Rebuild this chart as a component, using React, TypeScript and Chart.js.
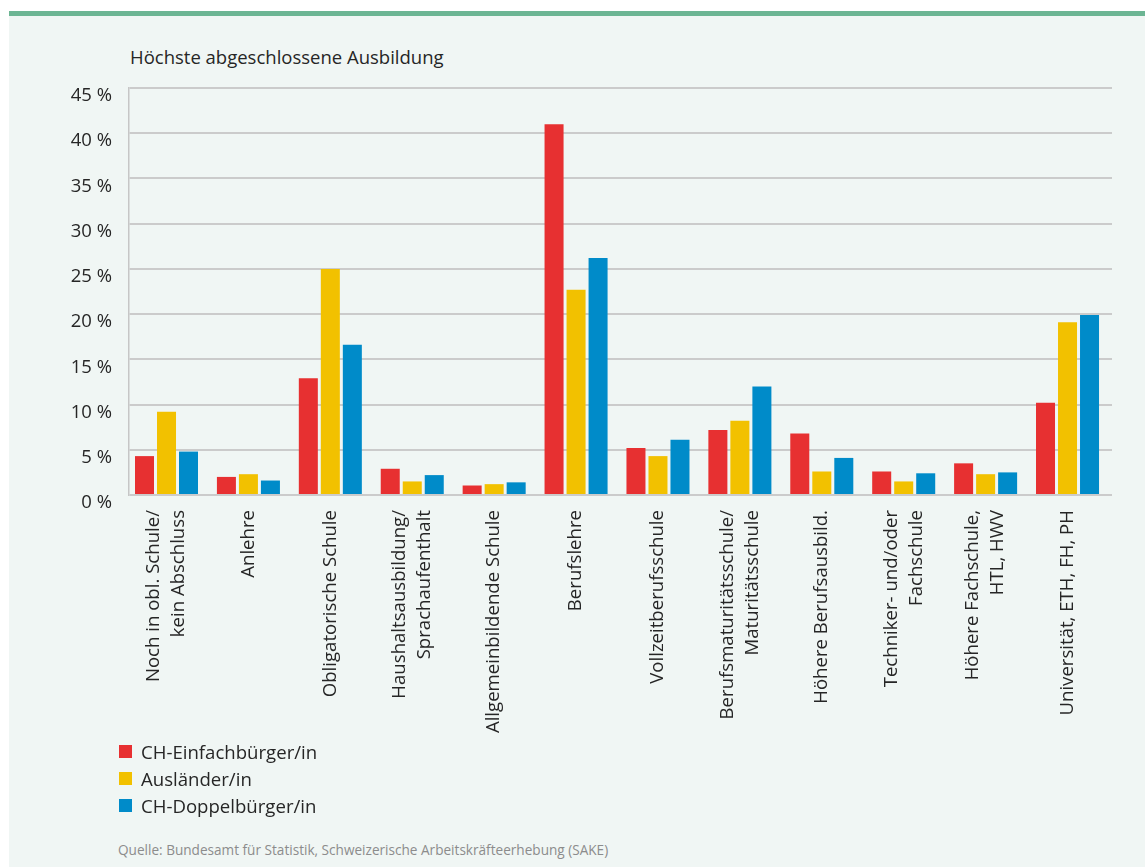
import React, { useEffect, useRef } from "react";
import { Chart, registerables } from "chart.js";

Chart.register(...registerables);

// ---- data ----
const categories: string[][] = [
  ["Noch in obl. Schule/", "kein Abschluss"],
  ["Anlehre"],
  ["Obligatorische Schule"],
  ["Haushaltsausbildung/", "Sprachaufenthalt"],
  ["Allgemeinbildende Schule"],
  ["Berufslehre"],
  ["Vollzeitberufsschule"],
  ["Berufsmaturitätsschule/", "Maturitätsschule"],
  ["Höhere Berufsausbild."],
  ["Techniker- und/oder", "Fachschule"],
  ["Höhere Fachschule,", "HTL, HWV"],
  ["Universität, ETH, FH, PH"],
];
const chEinfach = [4.3, 2.0, 12.9, 2.9, 1.05, 41.0, 5.2, 7.2, 6.8, 2.6, 3.5, 10.2];
const auslaender = [9.2, 2.3, 25.0, 1.5, 1.2, 22.7, 4.3, 8.2, 2.6, 1.5, 2.3, 19.1];
const chDoppel = [4.8, 1.6, 16.6, 2.2, 1.4, 26.2, 6.1, 12.0, 4.1, 2.4, 2.5, 19.9];
const seriesNames = ["CH-Einfachbürger/in", "Ausländer/in", "CH-Doppelbürger/in"];
const seriesColors = ["#e73031", "#f2c100", "#008bc9"];
const yMax = 45;
const yStep = 5;
const titleText = "Höchste abgeschlossene Ausbildung";
const sourceText = "Quelle: Bundesamt für Statistik, Schweizerische Arbeitskräfteerhebung (SAKE)";

const FONT = "'Open Sans', 'Noto Sans', sans-serif";
const TEXT = "#262626";
const CANVAS_W = 1136;
const CANVAS_H = 729;

const xLabelPlugin = {
  id: "xLabels",
  afterDraw(chart: any) {
    const ctx = chart.ctx;
    const xs = chart.scales.x;
    const top = chart.chartArea.bottom + 15;
    const lh = 25;
    ctx.save();
    ctx.font = `18.6px ${FONT}`;
    ctx.fillStyle = TEXT;
    ctx.textAlign = "right";
    ctx.textBaseline = "middle";
    categories.forEach((lines, i) => {
      const x = xs.getPixelForValue(i);
      ctx.save();
      ctx.translate(x, top);
      ctx.rotate(-Math.PI / 2);
      lines.forEach((ln, j) => {
        ctx.fillText(ln, 0, (j - (lines.length - 1) / 2) * lh);
      });
      ctx.restore();
    });
    ctx.restore();
  },
};

export default function App() {
  const ref = useRef<HTMLCanvasElement | null>(null);

  useEffect(() => {
    if (!ref.current) return;
    const series = [chEinfach, auslaender, chDoppel];
    const chart = new Chart(ref.current, {
      type: "bar",
      data: {
        datasets: series.map((vals, k) => ({
          label: seriesNames[k],
          data: vals.map((v, i) => ({ x: i, y: v })),
          backgroundColor: seriesColors[k],
          borderWidth: 0,
          barPercentage: 0.864,
          categoryPercentage: 0.806,
        })),
      },
      options: {
        animation: false,
        responsive: false,
        devicePixelRatio: 1,
        layout: { padding: { top: 72, right: 33, left: 0, bottom: 0 } },
        plugins: { legend: { display: false }, tooltip: { enabled: false } },
        scales: {
          x: {
            type: "linear",
            offset: false,
            min: -0.458,
            max: 11.543,
            grid: { display: false },
            border: { display: false },
            ticks: { display: false },
            afterFit: (s: any) => {
              s.height = 250;
            },
          },
          y: {
            min: 0,
            max: yMax,
            ticks: {
              stepSize: yStep,
              padding: 17,
              labelOffset: 8,
              color: TEXT,
              font: { family: FONT, size: 18.5 },
              callback: (v: any) => `${v} %`,
            },
            grid: { color: "#cbcbcb", lineWidth: 2, drawTicks: false },
            border: { display: true, color: "#c6c6c6", width: 1.5 },
            afterFit: (s: any) => {
              s.width = 120;
            },
          },
        },
      },
      plugins: [xLabelPlugin],
    } as any);
    return () => chart.destroy();
  }, []);

  return (
    <div
      style={{
        position: "absolute",
        left: 9,
        top: 11,
        width: 1136,
        height: 856,
        background: "#f0f6f4",
        borderTop: "5px solid #6cb593",
        boxSizing: "border-box",
        fontFamily: FONT,
        overflow: "hidden",
      }}
    >
      <div
        style={{
          position: "absolute",
          left: 121,
          top: 29,
          fontSize: 18.5,
          lineHeight: "24px",
          color: TEXT,
          whiteSpace: "nowrap",
        }}
      >
        {titleText}
      </div>
      <canvas
        ref={ref}
        width={CANVAS_W}
        height={CANVAS_H}
        style={{ position: "absolute", left: 0, top: 0, width: CANVAS_W, height: CANVAS_H }}
      />
      <div style={{ position: "absolute", left: 110, top: 722 }}>
        {seriesNames.map((n, k) => (
          <div
            key={n}
            style={{ display: "flex", alignItems: "center", height: 27, fontSize: 18.6, color: TEXT, whiteSpace: "nowrap" }}
          >
            <span style={{ display: "inline-block", width: 13, height: 13, background: seriesColors[k], marginRight: 9 }} />
            <span>{n}</span>
          </div>
        ))}
      </div>
      <div
        style={{
          position: "absolute",
          left: 109,
          top: 825,
          fontSize: 13.6,
          lineHeight: "18px",
          color: "#8c8c8c",
          whiteSpace: "nowrap",
        }}
      >
        {sourceText}
      </div>
    </div>
  );
}
